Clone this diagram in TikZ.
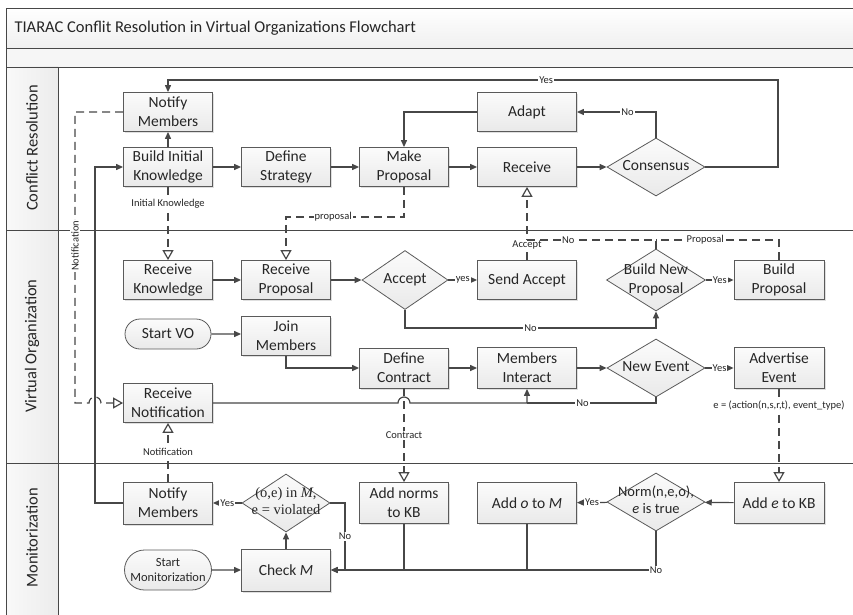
\documentclass[tikz,border=0pt]{standalone}
\usepackage{fontspec}
\setmainfont{Carlito}
\newfontfamily\timesfont{Liberation Serif}
\usetikzlibrary{arrows.meta,shapes.geometric,shapes.misc,shadows}
\definecolor{linegray}{HTML}{474747}
\definecolor{boxline}{HTML}{5A5A5A}
\newcommand{\dlabel}[1]{\makebox[0pt]{\begin{tabular}{@{}c@{}}#1\end{tabular}}}

\begin{document}
\begin{tikzpicture}
  [x=1pt,y=-1pt,
   every node/.style={font=\fontsize{15.5}{19}\selectfont,text=black!85},
   box/.style={rectangle,draw=boxline,line width=0.8pt,top color=gray!3,bottom color=gray!17,
     minimum width=89pt,minimum height=39pt,inner sep=1pt,align=center,
     drop shadow={opacity=0.25,shadow xshift=1.5pt,shadow yshift=-1.5pt}},
   decision/.style={diamond,draw=boxline,line width=0.8pt,top color=gray!3,bottom color=gray!17,
     inner sep=0pt,minimum width=98pt,minimum height=58pt},
   start/.style={rounded rectangle,draw=boxline,line width=0.8pt,top color=gray!3,bottom color=gray!17,
     minimum width=88pt,minimum height=30pt,inner sep=1pt,align=center},
   flow/.style={draw=linegray,line width=1.2pt,-{Triangle[length=7pt,width=6pt]}},
   link/.style={draw=linegray,line width=1.2pt},
   msg/.style={draw=linegray,line width=1.2pt,dash pattern=on 8pt off 5pt,
     -{Triangle[open,fill=white,length=10pt,width=11pt]}},
   msglink/.style={draw=linegray,line width=1.2pt,dash pattern=on 8pt off 5pt},
   lbl/.style={font=\fontsize{10.5}{12}\selectfont,fill=white,inner sep=1pt},
   lane/.style={font=\fontsize{16.5}{19}\selectfont,rotate=90}]

  \useasboundingbox (0,0) rectangle (853,615);

  % pool and lanes
  \fill[top color=white,bottom color=gray!12] (6,8) rectangle (853,48);
  \fill[gray!7] (6,48) rectangle (853,67);
  \fill[left color=gray!5,right color=gray!15] (6,67) rectangle (58,615);
  \draw[linegray,line width=0.8pt] (853,8) -- (6,8) -- (6,615);
  \foreach \y in {48,67,230,463}
    \draw[linegray,line width=0.8pt] (6,\y) -- (853,\y);
  \draw[linegray,line width=0.8pt] (58,67) -- (58,615);

  \node[anchor=west,font=\fontsize{16.5}{19}\selectfont] (title) at (11,28)
    {TIARAC Conflit Resolution in Virtual Organizations Flowchart};
  \node[lane] (lanecr) at (32,148) {Conflict Resolution};
  \node[lane] (lanevo) at (32,346) {Virtual Organization};
  \node[lane] (lanemo) at (32,538) {Monitorization};

  % conflict resolution
  \node[box] (notifytop) at (168,112) {Notify\\Members};
  \node[box] (buildinit) at (168,167) {Build Initial\\Knowledge};
  \node[box] (defstrat) at (286,167) {Define\\Strategy};
  \node[box] (makeprop) at (404,167) {Make\\Proposal};
  \node[box,minimum width=99pt] (adapt) at (527,112) {Adapt};
  \node[box,minimum width=99pt] (receive) at (527,167) {Receive};
  \node[decision] (consensus) at (656,167) {\dlabel{Consensus}};

  % virtual organization
  \node[box] (recvknow) at (168,280) {Receive\\Knowledge};
  \node[box] (recvprop) at (286,280) {Receive\\Proposal};
  \node[decision,minimum width=86pt,minimum height=59pt] (accept) at (405,280) {\dlabel{Accept}};
  \node[box,minimum width=99pt] (sendacc) at (527,280) {Send Accept};
  \node[decision,minimum width=99pt,minimum height=62pt] (buildnew) at (656,280) {\dlabel{Build New\\Proposal}};
  \node[box,minimum width=90pt] (buildprop) at (779,280) {Build\\Proposal};
  \node[start] (startvo) at (168,334) {Start VO};
  \node[box] (joinmem) at (286,336) {Join\\Members};
  \node[box,minimum height=40pt] (defcontr) at (404,368) {Define\\Contract};
  \node[box,minimum width=99pt,minimum height=41pt] (memint) at (527,368) {Members\\Interact};
  \node[decision] (newevent) at (656,368) {\dlabel{New Event}};
  \node[box,minimum width=90pt,minimum height=41pt] (advevent) at (779,368) {Advertise\\Event};
  \node[box] (recvnotif) at (168,403) {Receive\\Notification};

  % monitorization
  \node[box,minimum height=42pt] (notifybot) at (168,503) {Notify\\Members};
  \node[decision,minimum width=88pt,font=\timesfont\fontsize{14.5}{17}\selectfont] (violated) at (286,503)
    {\dlabel{(o,e) in \textit{M},\\e = violated}};
  \node[box,minimum height=42pt] (checkm) at (286,570) {Check \textit{M}};
  \node[start,minimum width=89pt,minimum height=40pt,font=\fontsize{12.5}{14.5}\selectfont] (startmon) at (168,570)
    {Start\\Monitorization};
  \node[box,minimum height=41pt] (addnorms) at (404,503) {Add norms\\to KB};
  \node[box,minimum width=99pt,minimum height=41pt] (addo) at (527,503) {Add \textit{o} to \textit{M}};
  \node[decision,font=\fontsize{14.5}{17}\selectfont] (normtrue) at (656,502) {\dlabel{Norm(n,e,o),\\\textit{e} is true}};
  \node[box,minimum width=90pt,minimum height=41pt] (adde) at (779,503) {Add \textit{e} to KB};

  % connectors: conflict resolution
  \draw[flow] (buildinit) -- (defstrat);
  \draw[flow] (defstrat) -- (makeprop);
  \draw[flow] (makeprop) -- (receive);
  \draw[flow] (receive) -- (consensus);
  \draw[flow] (buildinit) -- (notifytop);
  \draw[flow] (consensus.north) |- node[lbl,pos=0.68]{No} (adapt.east);
  \draw[flow] (adapt.west) -| (makeprop.north);
  \draw[flow] (consensus.east) -- (778,167) -- (778,80) -- node[lbl,pos=0.38]{Yes} (168,80) -- (notifytop.north);

  % messages between lanes
  \draw[msg] (buildinit) -- node[lbl,pos=0.23]{Initial Knowledge} (recvknow);
  \draw[msg] (makeprop.south) -- (404,217) -| node[lbl,pos=0.3]{proposal} (recvprop.north);
  \draw[msg] (sendacc) -- node[lbl,pos=0.2]{Accept} (receive);
  \draw[msglink] (buildnew.north) -- (656,240) -- node[lbl,pos=0.68]{No} (527,240);
  \draw[msglink] (buildprop.north) -- (779,240) -- node[lbl,pos=0.6]{Proposal} (656,240);

  % connectors: virtual organization
  \draw[flow] (recvknow) -- (recvprop);
  \draw[flow] (recvprop) -- (accept);
  \draw[flow] (accept) -- node[lbl]{yes} (sendacc);
  \draw[flow] (buildnew) -- node[lbl]{Yes} (buildprop);
  \draw[flow] (accept.south) -- (405,328) -- node[lbl]{No} (656,328) -- (buildnew.south);
  \draw[flow] (startvo) -- (startvo -| joinmem.west);
  \draw[flow] (joinmem.south) |- (defcontr.west);
  \draw[flow] (defcontr) -- (memint);
  \draw[flow] (memint) -- (newevent);
  \draw[flow] (newevent) -- node[lbl]{Yes} (advevent);
  \draw[flow] (recvnotif.east) -- (398,403) arc[start angle=180,end angle=0,radius=6pt] -- (527,403) -- (memint.south);
  \draw[link] (newevent.south) -- (656,403) -- node[lbl,pos=0.57]{No} (527,403);
  \draw[msg] (defcontr) -- node[lbl]{Contract} (addnorms);
  \draw[msg] (advevent) -- node[lbl,pos=0.18]{e = (action(n,s,r,t), event\_type)} (adde);
  \draw[msg] (notifybot) -- node[lbl]{Notification} (recvnotif);
  \draw[msg] (notifytop.west) -- (75,112) -- node[lbl,rotate=90,pos=0.46]{Notification} (75,403)
    -- (89,403) arc[start angle=180,end angle=0,radius=6pt] -- (recvnotif.west);

  % connectors: monitorization
  \draw[flow] (startmon) -- (checkm);
  \draw[flow] (checkm) -- (violated);
  \draw[flow] (violated) -- node[lbl]{Yes} (notifybot);
  \draw[flow] (violated.east) -- (345,503) -- node[lbl]{No} (345,570) -- (checkm.east);
  \draw[flow] (adde) -- (normtrue);
  \draw[flow] (normtrue) -- node[lbl]{Yes} (addo);
  \draw[flow] (normtrue.south) -- node[lbl,pos=1]{No} (656,570) -- (checkm.east);
  \draw[link] (addo.south) -- (527,570);
  \draw[link] (addnorms.south) -- (404,570);
  \draw[flow] (notifybot.west) -- (95,503) -- (95,167) -- (buildinit.west);
\end{tikzpicture}
\end{document}
